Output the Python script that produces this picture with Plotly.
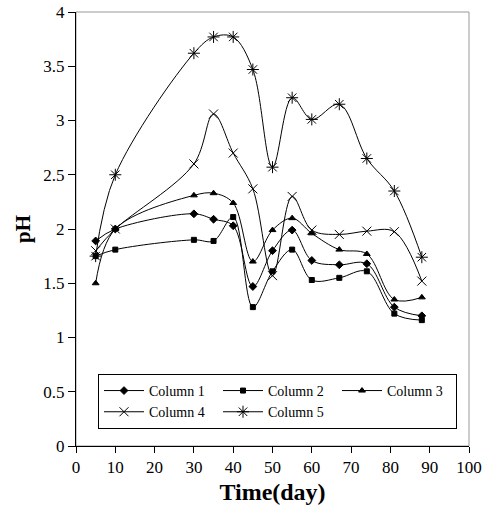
import plotly.graph_objects as go

days = [5, 10, 30, 35, 40, 45, 50, 55, 60, 67, 74, 81, 88]
col1 = [1.89, 2.00, 2.14, 2.09, 2.03, 1.47, 1.80, 1.99, 1.71, 1.67, 1.68, 1.28, 1.20]
col2 = [1.75, 1.81, 1.90, 1.89, 2.11, 1.28, 1.61, 1.81, 1.53, 1.55, 1.61, 1.22, 1.16]
col3 = [1.50, 2.00, 2.31, 2.33, 2.24, 1.70, 1.99, 2.10, 1.96, 1.81, 1.77, 1.35, 1.37]
col4 = [1.80, 2.00, 2.60, 3.06, 2.70, 2.37, 1.57, 2.30, 1.99, 1.95, 1.98, 1.975, 1.52]
col5 = [1.75, 2.50, 3.62, 3.77, 3.77, 3.47, 2.57, 3.21, 3.01, 3.15, 2.65, 2.35, 1.74]

names = ["Column 1", "Column 2", "Column 3", "Column 4", "Column 5"]
series = [col1, col2, col3, col4, col5]
symbols = ["diamond", "square", "triangle-up", "x-thin-open", "asterisk-open"]
sizes = [6, 5, 6, 9, 10]

fig = go.Figure()
for n, s, sym, sz in zip(names, series, symbols, sizes):
    fig.add_trace(go.Scatter(
        x=days, y=s, name=n, mode="lines+markers",
        line=dict(color="black", width=1, shape="spline", smoothing=1.0),
        marker=dict(symbol=sym, size=sz, color="black",
                    line=dict(color="black", width=1)),
    ))

fig.add_shape(type="rect", xref="paper", yref="paper", x0=0, x1=1, y0=0, y1=1,
              line=dict(color="#999999", width=1), layer="below")

font = dict(family="Liberation Serif", size=17, color="black")
fig.update_layout(
    width=488, height=510,
    margin=dict(l=76, r=19, t=12, b=64, autoexpand=False),
    paper_bgcolor="white", plot_bgcolor="white",
    font=font,
    showlegend=True,
    legend=dict(orientation="h", x=0.056, y=0.166, xanchor="left", yanchor="top",
                bordercolor="black", borderwidth=1, bgcolor="white",
                entrywidth=64, entrywidthmode="pixels",
                font=dict(family="Liberation Serif", size=14, color="black"),
                tracegroupgap=0, itemwidth=40),
    xaxis=dict(range=[0, 100], dtick=10, tick0=0, ticks="outside", ticklen=6,
               tickcolor="black", showline=True, linecolor="black", linewidth=1,
               showgrid=False, zeroline=False, automargin=False,
               title=dict(text="<b>Time(day)</b>", font=dict(family="Liberation Serif", size=24), standoff=6),
               tickfont=font),
    yaxis=dict(range=[0, 4], dtick=0.5, tick0=0, ticks="outside", ticklen=7,
               tickcolor="black", showline=True, linecolor="black", linewidth=1,
               showgrid=False, zeroline=False, automargin=False,
               title=dict(text="<b>pH</b>", font=dict(family="Liberation Serif", size=21), standoff=6),
               tickfont=font),
)

fig.write_html("out.html", config={"displayModeBar": False},
               post_script="document.body.style.margin='0';")
